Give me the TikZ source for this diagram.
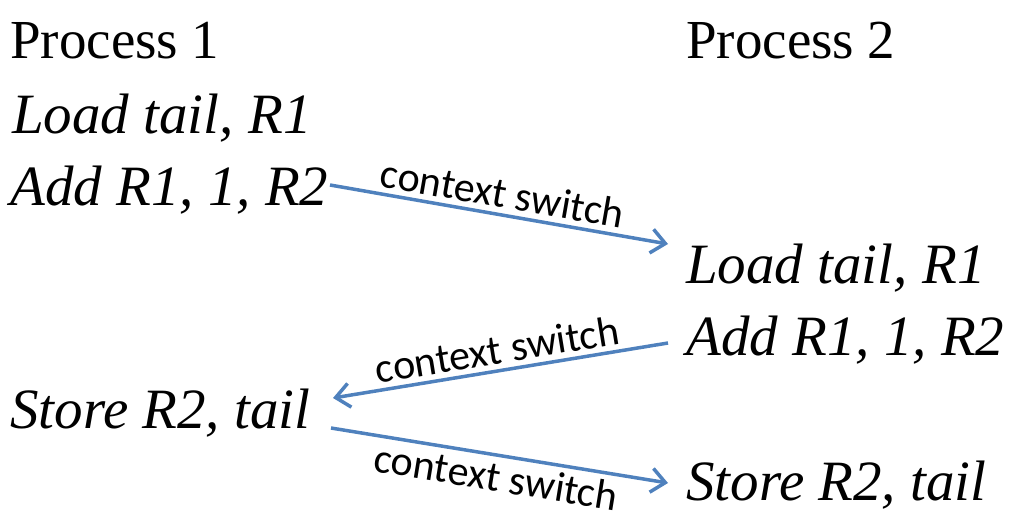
\documentclass[tikz,border=0pt]{standalone}
\usepackage{fontspec}
\setmainfont{Liberation Serif}
\newfontfamily\labelfont{Carlito}
\usetikzlibrary{arrows.meta,calc}
\definecolor{arrowblue}{HTML}{4F81BD}
\tikzset{
  big/.style={inner sep=0pt, anchor=base west, font=\fontsize{55}{62}\selectfont},
  instr/.style={big, font=\fontsize{57}{64}\selectfont\itshape},
  arr/.style={draw=arrowblue, line width=3.5pt, -{Straight Barb[length=14pt,width=24pt,line width=3.5pt]}},
  cslabel/.style={font=\labelfont\fontsize{42}{46}\selectfont, inner sep=0pt, sloped}
}
\begin{document}
\begin{tikzpicture}[x=1pt,y=-1pt]
\useasboundingbox (0,0) rectangle (1012,530);
\node[big] (p1) at (10,58) {Process 1};
\node[big] (p2) at (686,58) {Process 2};
\node[instr] (load1) at (12,133) {Load tail, R1};
\node[instr] (add1) at (10,205) {Add R1, 1, R2};
\node[instr] (load2) at (686,283) {Load tail, R1};
\node[instr] (add2) at (686,355) {Add R1, 1, R2};
\node[instr] (store1) at (10,428) {Store R2, tail};
\node[instr] (store2) at (686,500) {Store R2, tail};
\coordinate (a1s) at ($(add1.base west)+(320,-20)$);
\coordinate (a1e) at ($(load2.base west)+(-18,-39)$);
\coordinate (a2s) at ($(add2.base west)+(-18,-12)$);
\coordinate (a2e) at ($(store1.base west)+(323,-30)$);
\coordinate (a3s) at ($(store1.base west)+(321,0)$);
\coordinate (a3e) at ($(store2.base west)+(-18,-17)$);
\draw[arr] (a1s) -- node[cslabel, above=5pt, pos=0.5] (l1) {context switch} (a1e);
\draw[arr] (a2s) -- node[cslabel, above=5pt, pos=0.5] (l2) {context switch} (a2e);
\draw[arr] (a3s) -- node[cslabel, below=5pt, pos=0.5] (l3) {context switch} (a3e);
\end{tikzpicture}
\end{document}
